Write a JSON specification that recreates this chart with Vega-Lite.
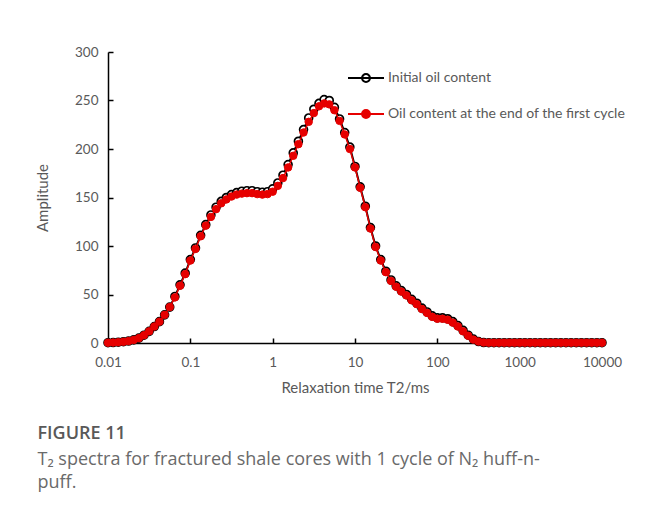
{
  "$schema": "https://vega.github.io/schema/vega-lite/v6.json",
  "width": 494,
  "height": 291,
  "autosize": {"type": "none"},
  "padding": {"left": 108, "top": 52, "right": 46, "bottom": 171},
  "background": "white",
  "config": {"view": {"stroke": null}, "font": "Lato"},
  "title": {
    "text": "FIGURE 11",
    "subtitle": ["T₂ spectra for fractured shale cores with 1 cycle of N₂ huff-n-", "puff."],
    "orient": "bottom",
    "anchor": "start",
    "frame": "bounds",
    "dx": 2,
    "offset": 29,
    "font": "Open Sans",
    "fontSize": 18,
    "fontWeight": 600,
    "color": "#595959",
    "subtitleFont": "Open Sans",
    "subtitleFontSize": 18,
    "subtitleColor": "#6a6a6a",
    "subtitleLineHeight": 23,
    "subtitlePadding": 8
  },
  "data": {"values": [
    {"t": 0.01, "a": 0.3, "b": 0.3},
    {"t": 0.01155, "a": 0.5, "b": 0.5},
    {"t": 0.01334, "a": 0.8, "b": 0.8},
    {"t": 0.0154, "a": 1.3, "b": 1.3},
    {"t": 0.01778, "a": 2, "b": 2},
    {"t": 0.02054, "a": 3.2, "b": 3.2},
    {"t": 0.02371, "a": 5, "b": 5},
    {"t": 0.02738, "a": 8, "b": 8},
    {"t": 0.03162, "a": 12, "b": 12},
    {"t": 0.03652, "a": 17, "b": 17},
    {"t": 0.04217, "a": 22, "b": 22},
    {"t": 0.0487, "a": 29, "b": 29},
    {"t": 0.05623, "a": 37, "b": 37},
    {"t": 0.06494, "a": 48, "b": 47},
    {"t": 0.07499, "a": 60, "b": 59},
    {"t": 0.0866, "a": 72, "b": 71},
    {"t": 0.1, "a": 86, "b": 85},
    {"t": 0.1155, "a": 98, "b": 97},
    {"t": 0.1334, "a": 111, "b": 110},
    {"t": 0.154, "a": 122, "b": 121},
    {"t": 0.1778, "a": 132, "b": 130},
    {"t": 0.2054, "a": 140, "b": 138},
    {"t": 0.2371, "a": 146, "b": 144},
    {"t": 0.2738, "a": 150, "b": 148},
    {"t": 0.3162, "a": 153, "b": 151},
    {"t": 0.3652, "a": 155, "b": 153},
    {"t": 0.4217, "a": 156.5, "b": 154},
    {"t": 0.487, "a": 157, "b": 154.5},
    {"t": 0.5623, "a": 157, "b": 154.5},
    {"t": 0.6494, "a": 156, "b": 153.5},
    {"t": 0.7499, "a": 155.5, "b": 153},
    {"t": 0.866, "a": 156, "b": 153.5},
    {"t": 1, "a": 159, "b": 156},
    {"t": 1.155, "a": 165, "b": 162},
    {"t": 1.334, "a": 173, "b": 170},
    {"t": 1.54, "a": 184, "b": 181},
    {"t": 1.778, "a": 196, "b": 193},
    {"t": 2.054, "a": 208, "b": 205},
    {"t": 2.371, "a": 220, "b": 217},
    {"t": 2.738, "a": 232, "b": 228},
    {"t": 3.162, "a": 241, "b": 237},
    {"t": 3.652, "a": 247, "b": 244},
    {"t": 4.217, "a": 251, "b": 247},
    {"t": 4.87, "a": 250, "b": 246},
    {"t": 5.623, "a": 243, "b": 240},
    {"t": 6.494, "a": 231, "b": 229},
    {"t": 7.499, "a": 217, "b": 215},
    {"t": 8.66, "a": 202, "b": 200},
    {"t": 10, "a": 182, "b": 181},
    {"t": 11.55, "a": 161, "b": 160},
    {"t": 13.34, "a": 141, "b": 140},
    {"t": 15.4, "a": 119, "b": 118},
    {"t": 17.78, "a": 100, "b": 99},
    {"t": 20.54, "a": 86, "b": 85},
    {"t": 23.71, "a": 74, "b": 73},
    {"t": 27.38, "a": 65, "b": 64},
    {"t": 31.62, "a": 59, "b": 58},
    {"t": 36.52, "a": 54, "b": 53},
    {"t": 42.17, "a": 50, "b": 49},
    {"t": 48.7, "a": 45, "b": 44},
    {"t": 56.23, "a": 41, "b": 40},
    {"t": 64.94, "a": 36, "b": 35},
    {"t": 74.99, "a": 32, "b": 31},
    {"t": 86.6, "a": 28, "b": 27},
    {"t": 100, "a": 26, "b": 25},
    {"t": 115.5, "a": 26, "b": 25},
    {"t": 133.4, "a": 25, "b": 24},
    {"t": 154, "a": 22, "b": 21},
    {"t": 177.8, "a": 18, "b": 17},
    {"t": 205.4, "a": 13, "b": 12},
    {"t": 237.1, "a": 8, "b": 7.5},
    {"t": 273.8, "a": 4, "b": 3.5},
    {"t": 316.2, "a": 1.5, "b": 1.5},
    {"t": 365.2, "a": 0.5, "b": 0.5},
    {"t": 421.7, "a": 0.3, "b": 0.3},
    {"t": 487, "a": 0.3, "b": 0.3},
    {"t": 562.3, "a": 0.3, "b": 0.3},
    {"t": 649.4, "a": 0.3, "b": 0.3},
    {"t": 749.9, "a": 0.3, "b": 0.3},
    {"t": 866, "a": 0.3, "b": 0.3},
    {"t": 1000, "a": 0.3, "b": 0.3},
    {"t": 1155, "a": 0.3, "b": 0.3},
    {"t": 1334, "a": 0.3, "b": 0.3},
    {"t": 1540, "a": 0.3, "b": 0.3},
    {"t": 1778, "a": 0.3, "b": 0.3},
    {"t": 2054, "a": 0.3, "b": 0.3},
    {"t": 2371, "a": 0.3, "b": 0.3},
    {"t": 2738, "a": 0.3, "b": 0.3},
    {"t": 3162, "a": 0.3, "b": 0.3},
    {"t": 3652, "a": 0.3, "b": 0.3},
    {"t": 4217, "a": 0.3, "b": 0.3},
    {"t": 4870, "a": 0.3, "b": 0.3},
    {"t": 5623, "a": 0.3, "b": 0.3},
    {"t": 6494, "a": 0.3, "b": 0.3},
    {"t": 7499, "a": 0.3, "b": 0.3},
    {"t": 8660, "a": 0.3, "b": 0.3},
    {"t": 10000, "a": 0.3, "b": 0.3}
  ]},
  "transform": [{"fold": ["a", "b"], "as": ["s", "amp"]}],
  "encoding": {
    "x": {
      "field": "t", "type": "quantitative",
      "scale": {"type": "log", "domain": [0.01, 10000]},
      "axis": {
        "title": "Relaxation time T2/ms",
        "values": [0.01, 0.1, 1, 10, 100, 1000, 10000],
        "labelExpr": "'' + datum.value",
        "labelFlush": false,
        "grid": false,
        "domainColor": "#000000", "domainWidth": 1.5,
        "tickColor": "#000000", "tickWidth": 1.5, "tickSize": -5,
        "labelColor": "#595959", "labelFontSize": 13.5, "labelPadding": 17,
        "titleColor": "#595959", "titleFontSize": 15, "titleFontWeight": "normal", "titlePadding": 12
      }
    },
    "y": {
      "field": "amp", "type": "quantitative",
      "scale": {"domain": [0, 300]},
      "axis": {
        "title": "Amplitude",
        "values": [0, 50, 100, 150, 200, 250, 300],
        "grid": false,
        "domainColor": "#000000", "domainWidth": 1.5,
        "tickColor": "#000000", "tickWidth": 1.5, "tickSize": -5,
        "labelColor": "#595959", "labelFontSize": 13.5, "labelPadding": 15,
        "titleColor": "#595959", "titleFontSize": 15, "titleFontWeight": "normal", "titlePadding": 24
      }
    },
    "stroke": {
      "field": "s", "type": "nominal",
      "scale": {"domain": ["a", "b"], "range": ["#000000", "#e60000"]},
      "legend": {
        "title": null, "orient": "none", "legendX": 239, "legendY": 7,
        "symbolType": "M-1,0L1,0M0.22,0A0.22,0.22,0,1,1,-0.22,0A0.22,0.22,0,1,1,0.22,0Z",
        "symbolSize": 1296, "symbolStrokeWidth": 2, "rowPadding": 9, "labelOffset": 3,
        "labelColor": "#595959", "labelFontSize": 14, "labelLimit": 400,
        "labelExpr": "datum.value == 'a' ? 'Initial oil content' : 'Oil content at the end of the first cycle'"
      }
    }
  },
  "layer": [
    {"transform": [{"filter": "datum.s == 'a'"}], "mark": {"type": "line", "strokeWidth": 2}},
    {"transform": [{"filter": "datum.s == 'a'"}],
     "mark": {"type": "point", "shape": "circle", "filled": true, "size": 62, "strokeWidth": 1.7, "opacity": 1},
     "encoding": {"fill": {"field": "s", "type": "nominal", "scale": {"domain": ["a", "b"], "range": ["#ffffff", "#e60000"]},
       "legend": {
        "title": null, "orient": "none", "legendX": 239, "legendY": 7,
        "symbolType": "M-1,0L1,0M0.22,0A0.22,0.22,0,1,1,-0.22,0A0.22,0.22,0,1,1,0.22,0Z",
        "symbolSize": 1296, "symbolStrokeWidth": 2, "rowPadding": 9, "labelOffset": 3,
        "labelColor": "#595959", "labelFontSize": 14, "labelLimit": 400,
        "labelExpr": "datum.value == 'a' ? 'Initial oil content' : 'Oil content at the end of the first cycle'"
      }}}},
    {"transform": [{"filter": "datum.s == 'b'"}], "mark": {"type": "line", "strokeWidth": 1.5}},
    {"transform": [{"filter": "datum.s == 'b'"}],
     "mark": {"type": "point", "shape": "circle", "filled": true, "size": 56, "strokeWidth": 1, "opacity": 1},
     "encoding": {"fill": {"field": "s", "type": "nominal", "scale": {"domain": ["a", "b"], "range": ["#ffffff", "#e60000"]},
       "legend": {
        "title": null, "orient": "none", "legendX": 239, "legendY": 7,
        "symbolType": "M-1,0L1,0M0.22,0A0.22,0.22,0,1,1,-0.22,0A0.22,0.22,0,1,1,0.22,0Z",
        "symbolSize": 1296, "symbolStrokeWidth": 2, "rowPadding": 9, "labelOffset": 3,
        "labelColor": "#595959", "labelFontSize": 14, "labelLimit": 400,
        "labelExpr": "datum.value == 'a' ? 'Initial oil content' : 'Oil content at the end of the first cycle'"
      }}}}
  ]
}
